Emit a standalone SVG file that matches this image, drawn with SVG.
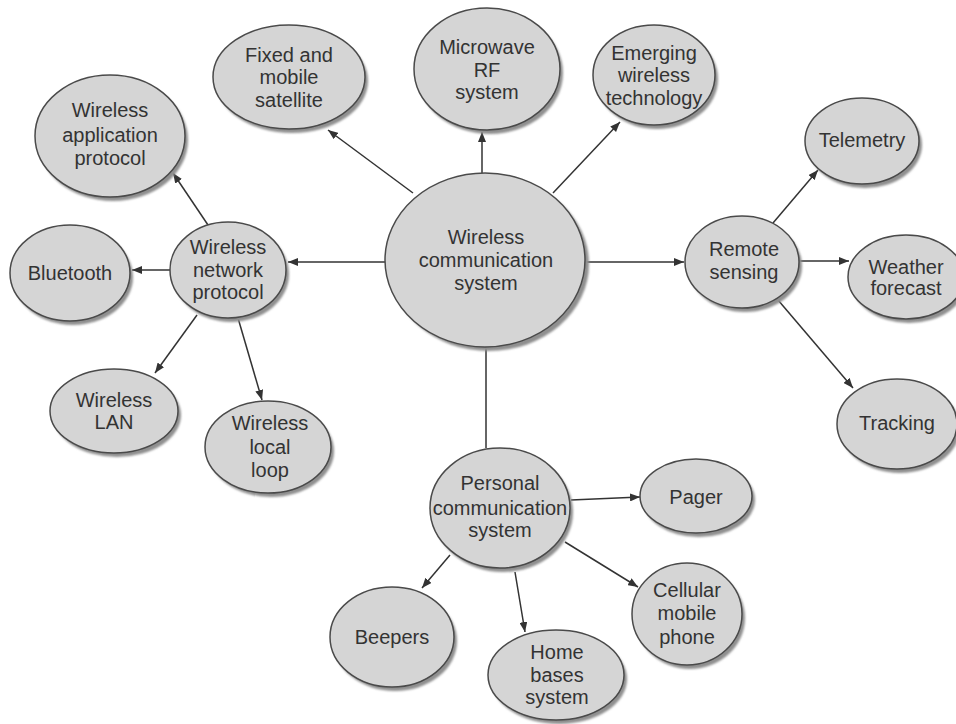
<svg xmlns="http://www.w3.org/2000/svg" width="956" height="724" viewBox="0 0 956 724">
<defs>
<marker id="arr" viewBox="0 0 10 8" refX="10" refY="4" markerWidth="10" markerHeight="8" markerUnits="userSpaceOnUse" orient="auto">
<path d="M0,0 L10,4 L0,8 z" fill="#333"/>
</marker>
<filter id="blur" x="-10%" y="-10%" width="120%" height="120%"><feGaussianBlur stdDeviation="1.2"/></filter>
</defs>
<style>
.sh{fill:#8f8f8f;filter:url(#blur)}
.el{fill:#d5d5d5;stroke:#4a4a4a;stroke-width:1.5}
text{font-family:"Liberation Sans",Arial,sans-serif;font-size:20px;fill:#333;text-anchor:middle}
.c line{stroke:#333;stroke-width:1.5}
.a{marker-end:url(#arr)}
</style>
<rect width="956" height="724" fill="#fff"/>
<g class="c" id="connectors">
<line class="a" x1="413" y1="193" x2="328" y2="130"/>
<line class="a" x1="482" y1="173" x2="482" y2="132"/>
<line class="a" x1="553" y1="193" x2="620" y2="122"/>
<line class="a" x1="385" y1="262" x2="288" y2="262"/>
<line class="a" x1="585" y1="262" x2="684" y2="262"/>
<line x1="486" y1="347" x2="486" y2="448"/>
<line class="a" x1="208" y1="225" x2="173" y2="173"/>
<line class="a" x1="170" y1="270" x2="132" y2="270"/>
<line class="a" x1="197" y1="315" x2="155" y2="373"/>
<line class="a" x1="238" y1="318" x2="262" y2="400"/>
<line class="a" x1="773" y1="223" x2="818" y2="170"/>
<line class="a" x1="797" y1="261" x2="849" y2="261"/>
<line class="a" x1="778" y1="300" x2="853" y2="388"/>
<line class="a" x1="571" y1="500" x2="640" y2="497"/>
<line class="a" x1="565" y1="542" x2="638" y2="587"/>
<line class="a" x1="450" y1="555" x2="422" y2="588"/>
<line class="a" x1="515" y1="572" x2="525" y2="632"/>
</g>
<g id="central">
<ellipse class="sh" cx="489" cy="264" rx="100" ry="87"/>
<ellipse class="el" cx="485" cy="260" rx="100" ry="87"/>
<text x="486" y="244">Wireless</text><text x="486" y="267">communication</text><text x="486" y="290">system</text>
</g>
<g id="fixed">
<ellipse class="sh" cx="292" cy="81" rx="76" ry="52"/>
<ellipse class="el" cx="289" cy="77" rx="76" ry="52"/>
<text x="289" y="62">Fixed and</text><text x="289" y="84">mobile</text><text x="289" y="107">satellite</text>
</g>
<g id="microwave">
<ellipse class="sh" cx="490" cy="73" rx="73" ry="61"/>
<ellipse class="el" cx="487" cy="69" rx="73" ry="61"/>
<text x="487" y="54">Microwave</text><text x="487" y="77">RF</text><text x="487" y="99">system</text>
</g>
<g id="emerging">
<ellipse class="sh" cx="657" cy="79" rx="61" ry="50"/>
<ellipse class="el" cx="654" cy="75" rx="61" ry="50"/>
<text x="654" y="60">Emerging</text><text x="654" y="82">wireless</text><text x="654" y="105">technology</text>
</g>
<g id="wap">
<ellipse class="sh" cx="113" cy="140" rx="75" ry="61"/>
<ellipse class="el" cx="110" cy="136" rx="75" ry="61"/>
<text x="110" y="117">Wireless</text><text x="110" y="142">application</text><text x="110" y="165">protocol</text>
</g>
<g id="bluetooth">
<ellipse class="sh" cx="73" cy="277" rx="60" ry="48"/>
<ellipse class="el" cx="70" cy="273" rx="60" ry="48"/>
<text x="70" y="280">Bluetooth</text>
</g>
<g id="wnp">
<ellipse class="sh" cx="231" cy="274" rx="58" ry="48"/>
<ellipse class="el" cx="228" cy="270" rx="58" ry="48"/>
<text x="228" y="254">Wireless</text><text x="228" y="277">network</text><text x="228" y="299">protocol</text>
</g>
<g id="wlan">
<ellipse class="sh" cx="117" cy="415" rx="64" ry="42"/>
<ellipse class="el" cx="114" cy="411" rx="64" ry="42"/>
<text x="114" y="407">Wireless</text><text x="114" y="429">LAN</text>
</g>
<g id="wll">
<ellipse class="sh" cx="271" cy="451" rx="63" ry="46"/>
<ellipse class="el" cx="268" cy="447" rx="63" ry="46"/>
<text x="270" y="430">Wireless</text><text x="270" y="454">local</text><text x="270" y="477">loop</text>
</g>
<g id="remote">
<ellipse class="sh" cx="745" cy="266" rx="57" ry="46"/>
<ellipse class="el" cx="742" cy="262" rx="57" ry="46"/>
<text x="744" y="256">Remote</text><text x="744" y="279">sensing</text>
</g>
<g id="telemetry">
<ellipse class="sh" cx="865" cy="145" rx="57" ry="43"/>
<ellipse class="el" cx="862" cy="141" rx="57" ry="43"/>
<text x="862" y="147">Telemetry</text>
</g>
<g id="weather">
<ellipse class="sh" cx="909" cy="281" rx="58" ry="42"/>
<ellipse class="el" cx="906" cy="277" rx="58" ry="42"/>
<text x="906" y="274">Weather</text><text x="906" y="295">forecast</text>
</g>
<g id="tracking">
<ellipse class="sh" cx="900" cy="428" rx="60" ry="45"/>
<ellipse class="el" cx="897" cy="424" rx="60" ry="45"/>
<text x="897" y="430">Tracking</text>
</g>
<g id="personal">
<ellipse class="sh" cx="503" cy="512" rx="70" ry="60"/>
<ellipse class="el" cx="500" cy="508" rx="70" ry="60"/>
<text x="500" y="490">Personal</text><text x="500" y="515">communication</text><text x="500" y="537">system</text>
</g>
<g id="pager">
<ellipse class="sh" cx="699" cy="500" rx="56" ry="37"/>
<ellipse class="el" cx="696" cy="496" rx="56" ry="37"/>
<text x="696" y="504">Pager</text>
</g>
<g id="cellular">
<ellipse class="sh" cx="690" cy="618" rx="55" ry="51"/>
<ellipse class="el" cx="687" cy="614" rx="55" ry="51"/>
<text x="687" y="597">Cellular</text><text x="687" y="620">mobile</text><text x="687" y="644">phone</text>
</g>
<g id="beepers">
<ellipse class="sh" cx="395" cy="641" rx="62" ry="50"/>
<ellipse class="el" cx="392" cy="637" rx="62" ry="50"/>
<text x="392" y="644">Beepers</text>
</g>
<g id="home">
<ellipse class="sh" cx="559" cy="679" rx="68" ry="45"/>
<ellipse class="el" cx="556" cy="675" rx="68" ry="45"/>
<text x="557" y="659">Home</text><text x="557" y="682">bases</text><text x="557" y="704">system</text>
</g>
</svg>
